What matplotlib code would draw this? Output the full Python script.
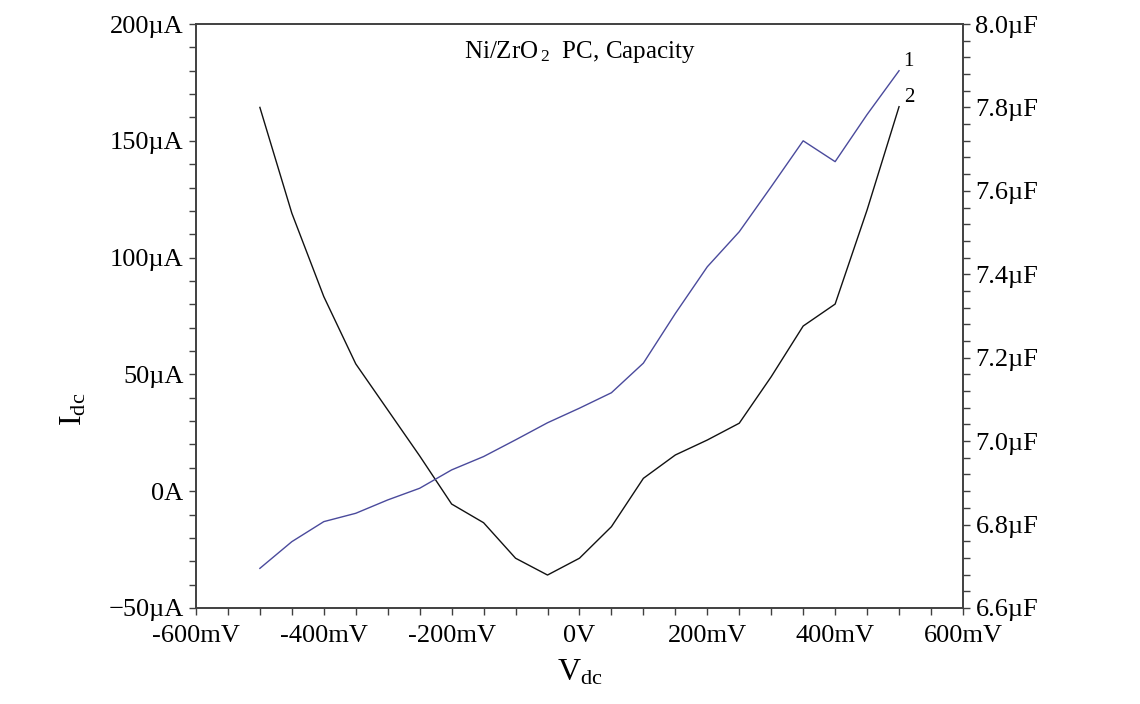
import numpy as np
import matplotlib
matplotlib.use("Agg")
import matplotlib.pyplot as plt
from matplotlib.ticker import FixedLocator, MultipleLocator, FuncFormatter

plt.rcParams['font.family'] = ['Liberation Serif', 'DejaVu Serif']
plt.rcParams['mathtext.fontset'] = 'custom'
plt.rcParams['mathtext.rm'] = 'Liberation Serif'
plt.rcParams['mathtext.it'] = 'Liberation Serif'

# bias voltage (mV)
v_dc = [-500, -450, -400, -350, -300, -250, -200, -150, -100, -50, 0,
        50, 100, 150, 200, 250, 300, 350, 400, 450, 500]
# curve 1: capacity (uF, right axis)
capacity = [6.695, 6.759, 6.807, 6.827, 6.859, 6.887, 6.931, 6.963, 7.003, 7.044, 7.079,
            7.116, 7.187, 7.306, 7.418, 7.502, 7.610, 7.720, 7.670, 7.783, 7.888]
# curve 2: dc current (uA, left axis)
i_dc = [164.3, 119.0, 83.3, 54.5, 34.8, 15.1, -5.5, -13.5, -28.7, -35.9, -28.7,
        -15.2, 5.5, 15.5, 21.9, 29.1, 49.0, 70.7, 80.1, 120.4, 164.6]

x_ticks = [-600, -400, -200, 0, 200, 400, 600]
x_labels = ['-600mV', '-400mV', '-200mV', '0V', '200mV', '400mV', '600mV']
i_ticks = [-50, 0, 50, 100, 150, 200]
i_labels = ['\u221250\u00b5A', '0A', '50\u00b5A', '100\u00b5A', '150\u00b5A', '200\u00b5A']
c_ticks = [6.6, 6.8, 7.0, 7.2, 7.4, 7.6, 7.8, 8.0]

fig = plt.figure(figsize=(11.4, 7.04), dpi=100)
ax = fig.add_axes([0.1719, 0.1364, 0.6728, 0.8295])
ax2 = ax.twinx()

spine_col = '#404040'
ax.plot(v_dc, i_dc, color='#111111', lw=1.0)
ax2.plot(v_dc, capacity, color='#4a4a9c', lw=1.0)

ax.set_xlim(-600, 600)
ax.set_ylim(-50, 200)
ax2.set_ylim(6.6, 8.0)

ax.xaxis.set_major_locator(FixedLocator(x_ticks))
ax.xaxis.set_minor_locator(MultipleLocator(50))
ax.set_xticklabels(x_labels)
ax.yaxis.set_major_locator(FixedLocator(i_ticks))
ax.yaxis.set_minor_locator(MultipleLocator(10))
ax.set_yticklabels(i_labels)
ax2.yaxis.set_major_locator(FixedLocator(c_ticks))
ax2.yaxis.set_minor_locator(MultipleLocator(0.04))
ax2.yaxis.set_major_formatter(FuncFormatter(lambda v, p: f'{v:.1f}\u00b5F'))

for a in (ax, ax2):
    for s in a.spines.values():
        s.set_color(spine_col)
        s.set_linewidth(1.2)
    a.tick_params(which='both', direction='out', length=5, width=1, color=spine_col,
                  labelsize=19, pad=4)
ax.tick_params(axis='x', which='both', top=False)
ax.tick_params(axis='x', pad=7)

ax.set_xlabel(r'$\mathrm{V_{dc}}$', fontsize=23)
ax.xaxis.set_label_coords(0.5, -0.085)
ax.set_ylabel(r'$\mathrm{I_{dc}}$', fontsize=23)
ax.yaxis.set_label_coords(-0.14, 0.34)

ax.text(0.5, 0.975, r'Ni/ZrO$_{\,\mathregular{2}}$  PC, Capacity', transform=ax.transAxes,
        ha='center', va='top', fontsize=18)
ax2.text(v_dc[-1] + 6, capacity[-1], '1', fontsize=15, ha='left', va='bottom')
ax.text(v_dc[-1] + 8, i_dc[-1], '2', fontsize=15, ha='left', va='bottom')

fig.savefig('out.png', dpi=100)
